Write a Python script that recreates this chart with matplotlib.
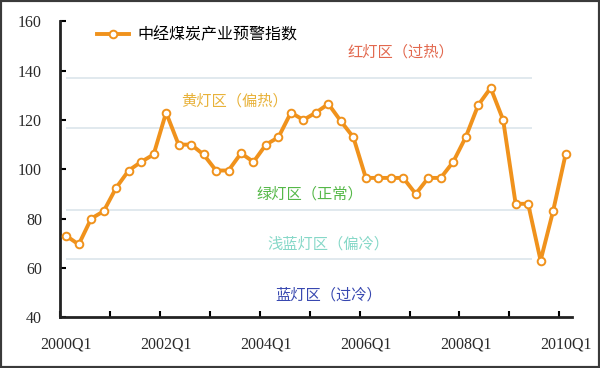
import matplotlib.pyplot as plt
from matplotlib.patches import Rectangle

plt.rcParams["font.family"] = ["Noto Sans CJK SC", "DejaVu Sans"]

# quarterly index values, 2000Q1 .. 2010Q1
QUARTERS = [f"{y}Q{q}" for y in range(2000, 2011) for q in range(1, 5)][:41]
INDEX = [
    73, 69.5, 80, 83, 92.5, 99.5, 103, 106, 123, 110,
    110, 106, 99.5, 99.5, 106.5, 103, 110, 113, 123, 120,
    123, 126.5, 119.5, 113, 96.5, 96.5, 96.5, 96.5, 90, 96.5,
    96.5, 103, 113, 126, 133, 120, 86, 86, 63, 83,
    106,
]
ZONE_BOUNDS = [137, 116.7, 83.3, 63.5]
ZONE_LABELS = ["红灯区（过热）", "黄灯区（偏热）", "绿灯区（正常）",
               "浅蓝灯区（偏冷）", "蓝灯区（过冷）"]
ZONE_COLORS = ["#e2684e", "#e8b23a", "#55b848", "#86d8c8", "#3848b0"]
# label anchor (category index, value) for each zone
ZONE_POS = [(26.8, 147.5), (13.5, 127.5), (19.5, 90), (21, 69.5), (21, 49)]
LEGEND_LABEL = "中经煤炭产业预警指数"

fig = plt.figure(figsize=(6, 3.68), dpi=100)
ax = fig.add_axes([0.1, 0.138, 0.853, 0.804])

x = list(range(len(INDEX)))

ax.hlines(ZONE_BOUNDS, 0.0, 37.3, colors="#d9e3ea", linewidth=1.1, zorder=1)

ax.plot(
    x, INDEX,
    color="#f0921c", linewidth=2.8,
    marker="o", markersize=5.5,
    markerfacecolor="white", markeredgecolor="#f0921c", markeredgewidth=1.4,
    label=LEGEND_LABEL, zorder=3,
)

for label, color, (cx, cy) in zip(ZONE_LABELS, ZONE_COLORS, ZONE_POS):
    ax.text(cx, cy, label, color=color, fontsize=11,
            ha="center", va="center", zorder=2)

ax.set_xlim(-0.5, len(INDEX) - 0.5)
ax.set_ylim(40, 160)
ax.set_yticks(range(40, 161, 20))

label_idx = list(range(0, len(INDEX), 8))
ax.set_xticks(label_idx)
ax.set_xticklabels([QUARTERS[i] for i in label_idx])
ax.set_xticks([i - 0.5 for i in range(0, len(INDEX), 4)], minor=True)

ax.tick_params(axis="x", which="major", length=0, pad=14)
ax.tick_params(axis="x", which="minor", direction="in", length=4, width=1.5)
ax.tick_params(axis="y", direction="in", length=4, width=1.5, pad=13)
for lbl in ax.get_xticklabels() + ax.get_yticklabels():
    lbl.set_family(["Liberation Serif"])
    lbl.set_fontsize(11.5)
    lbl.set_color("#2a2a2a")

for side in ("top", "right"):
    ax.spines[side].set_visible(False)
for side in ("left", "bottom"):
    ax.spines[side].set_linewidth(2)
    ax.spines[side].set_color("#222222")

ax.legend(
    loc="upper left", bbox_to_anchor=(0.138, 0.968),
    bbox_transform=fig.transFigure,
    frameon=False, handlelength=2.0, handletextpad=0.5,
    prop={"size": 11.5},
)

fig.patches.append(Rectangle((0, 0), 1, 1, transform=fig.transFigure,
                             fill=False, edgecolor="#3a3a3a", linewidth=3))

fig.savefig("out.png", dpi=100)
